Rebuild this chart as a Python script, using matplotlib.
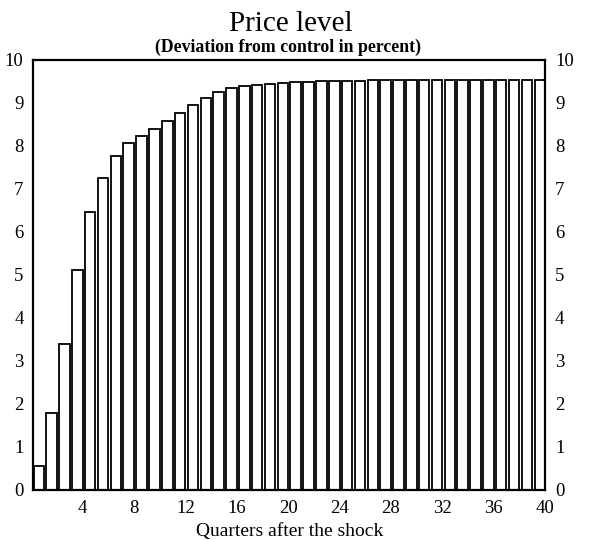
import numpy as np
import matplotlib.pyplot as plt

plt.rcParams['font.family'] = ['Liberation Serif', 'DejaVu Serif']

# Price level response, deviation from control (percent), quarters 1..40
quarters = np.arange(1, 41)
price_dev = [0.55, 1.79, 3.39, 5.11, 6.47, 7.26, 7.77, 8.07, 8.23, 8.40,
             8.59, 8.77, 8.95, 9.12, 9.26, 9.34, 9.40, 9.42, 9.44, 9.46,
             9.48, 9.49, 9.50, 9.51, 9.52, 9.52, 9.53, 9.53, 9.53, 9.53,
             9.53, 9.53, 9.53, 9.53, 9.53, 9.53, 9.53, 9.53, 9.53, 9.53]
xticks = [4, 8, 12, 16, 20, 24, 28, 32, 36, 40]
yticks = list(range(0, 11))

bar_w = 0.82

fig = plt.figure(figsize=(5.94, 5.4), dpi=100)
ax = fig.add_axes([0.056, 0.093, 0.862, 0.796])

# each quarter's bar ends at its tick
ax.bar(quarters, price_dev, width=-bar_w, align='edge', color='white',
       edgecolor='black', linewidth=1.3)

ax.set_xlim(1 - bar_w - 0.02, 40.02)
ax.set_ylim(0, 10)
ax.set_xticks(xticks)
ax.set_yticks(yticks)
ax.tick_params(axis='both', length=0, labelsize=13.5)
ax.tick_params(axis='y', labelright=True, pad=7)
ax.tick_params(axis='x', pad=7)
for s in ax.spines.values():
    s.set_linewidth(1.6)

ax.set_xlabel('Quarters after the shock', fontsize=14, labelpad=5)
fig.text(0.49, 0.956, 'Price level', ha='center', va='center', fontsize=21)
fig.text(0.485, 0.913, '(Deviation from control in percent)', ha='center',
         va='center', fontsize=12.8, fontweight='bold')

fig.savefig('out.png', dpi=100)
